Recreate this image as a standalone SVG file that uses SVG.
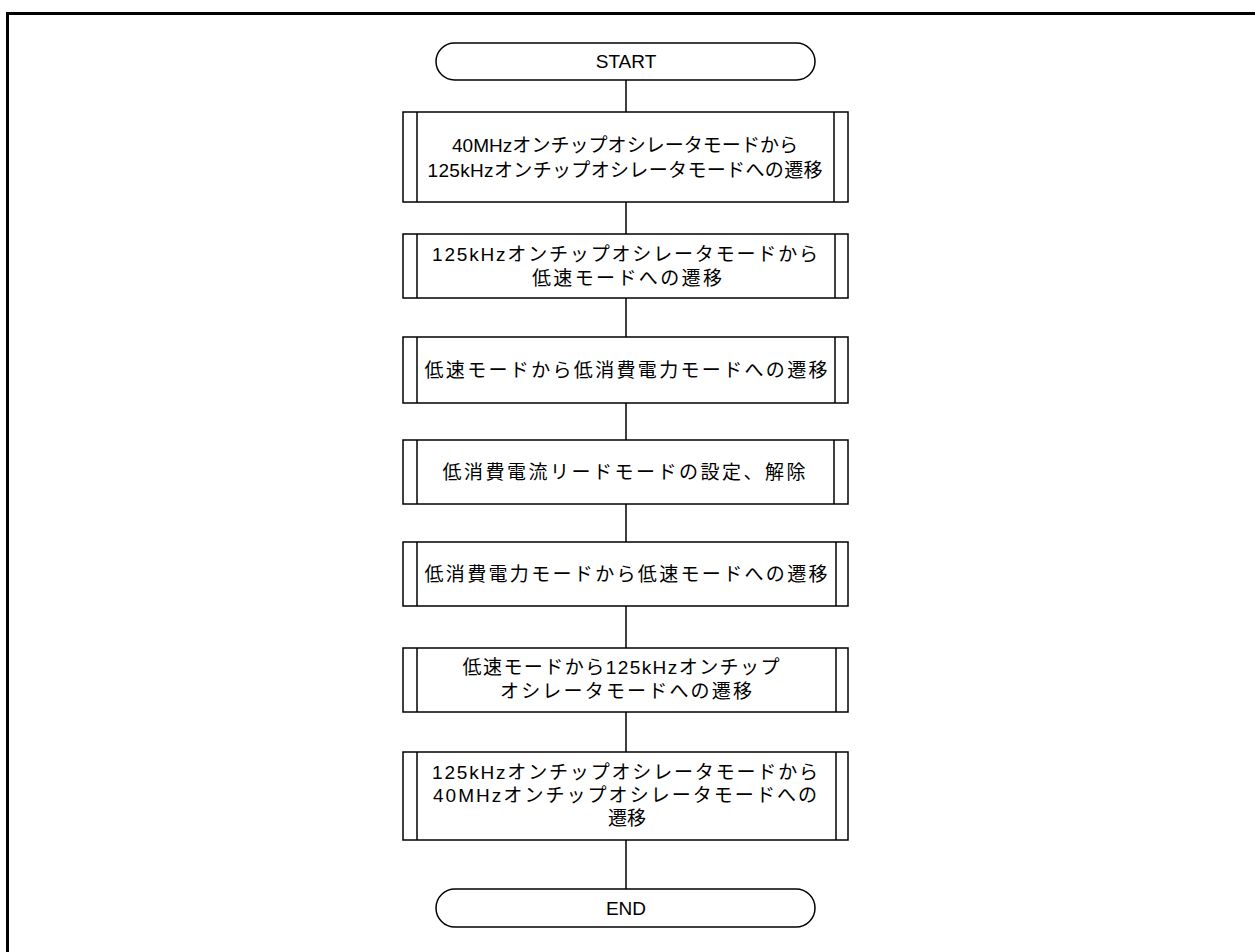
<svg xmlns="http://www.w3.org/2000/svg" width="1255" height="952" viewBox="0 0 1255 952">
<style>
.box{fill:#fff;stroke:#000;stroke-width:1.5}
.bar{stroke:#000;stroke-width:1.5}
.t{font-family:"Liberation Sans","Noto Sans CJK JP",sans-serif;font-size:19px;fill:#000;text-anchor:middle}
.c{stroke:#000;stroke-width:1.5;fill:none}
.frame{stroke:#000;stroke-width:3;fill:none}
</style>
<path class="frame" d="M7.5,952 V13.5 H1255"/>
<g id="connectors">
<line class="c" x1="626" y1="80" x2="626" y2="112"/>
<line class="c" x1="626" y1="202" x2="626" y2="234"/>
<line class="c" x1="626" y1="298" x2="626" y2="337"/>
<line class="c" x1="626" y1="403" x2="626" y2="440"/>
<line class="c" x1="626" y1="504" x2="626" y2="542"/>
<line class="c" x1="626" y1="606" x2="626" y2="648"/>
<line class="c" x1="626" y1="712" x2="626" y2="752"/>
<line class="c" x1="626" y1="840" x2="626" y2="889"/>
</g>
<g id="start">
<rect class="box" x="436" y="43" width="379" height="37" rx="18.5"/>
<text class="t" x="626" y="68">START</text>
</g>
<g id="step1">
<rect class="box" x="403" y="112" width="445" height="90"/>
<line class="bar" x1="417" y1="112" x2="417" y2="202"/><line class="bar" x1="834" y1="112" x2="834" y2="202"/>
<text class="t" x="625" y="152" textLength="346">40MHzオンチップオシレータモードから</text>
<text class="t" x="625" y="177" textLength="395">125kHzオンチップオシレータモードへの遷移</text>
</g>
<g id="step2">
<rect class="box" x="403" y="234" width="445" height="64"/>
<line class="bar" x1="417" y1="234" x2="417" y2="298"/><line class="bar" x1="835" y1="234" x2="835" y2="298"/>
<text class="t" x="625" y="261" textLength="386">125kHzオンチップオシレータモードから</text>
<text class="t" x="627" y="285" textLength="190">低速モードへの遷移</text>
</g>
<g id="step3">
<rect class="box" x="403" y="337" width="445" height="66"/>
<line class="bar" x1="417" y1="337" x2="417" y2="403"/><line class="bar" x1="835" y1="337" x2="835" y2="403"/>
<text class="t" x="626" y="377" textLength="403">低速モードから低消費電力モードへの遷移</text>
</g>
<g id="step4">
<rect class="box" x="403" y="440" width="445" height="64"/>
<line class="bar" x1="417" y1="440" x2="417" y2="504"/><line class="bar" x1="834" y1="440" x2="834" y2="504"/>
<text class="t" x="624" y="479" textLength="363">低消費電流リードモードの設定、解除</text>
</g>
<g id="step5">
<rect class="box" x="403" y="542" width="445" height="64"/>
<line class="bar" x1="417" y1="542" x2="417" y2="606"/><line class="bar" x1="836" y1="542" x2="836" y2="606"/>
<text class="t" x="626" y="581" textLength="403">低消費電力モードから低速モードへの遷移</text>
</g>
<g id="step6">
<rect class="box" x="403" y="648" width="445" height="64"/>
<line class="bar" x1="417" y1="648" x2="417" y2="712"/><line class="bar" x1="836" y1="648" x2="836" y2="712"/>
<text class="t" x="621" y="674" textLength="317">低速モードから125kHzオンチップ</text>
<text class="t" x="626" y="698" textLength="252">オシレータモードへの遷移</text>
</g>
<g id="step7">
<rect class="box" x="403" y="752" width="445" height="88"/>
<line class="bar" x1="417" y1="752" x2="417" y2="840"/><line class="bar" x1="836" y1="752" x2="836" y2="840"/>
<text class="t" x="625" y="779" textLength="386">125kHzオンチップオシレータモードから</text>
<text class="t" x="625" y="802" textLength="384">40MHzオンチップオシレータモードへの</text>
<text class="t" x="627" y="825">遷移</text>
</g>
<g id="end">
<rect class="box" x="436" y="889" width="379" height="38" rx="19"/>
<text class="t" x="626" y="915">END</text>
</g>
</svg>
